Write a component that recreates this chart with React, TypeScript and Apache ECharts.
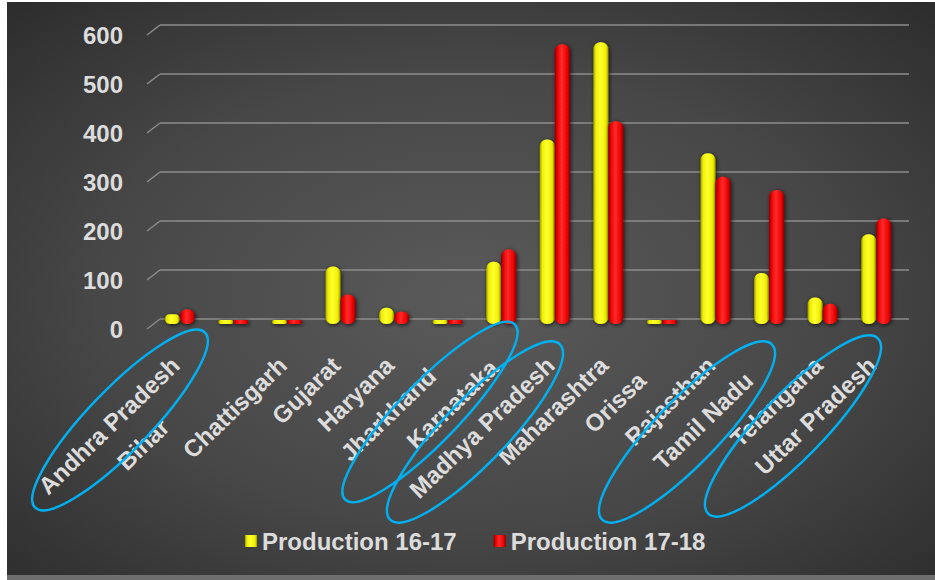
import { useEffect, useRef } from 'react';
import * as echarts from 'echarts';

// Pulse production by state, two seasons
const categories = [
  'Andhra Pradesh',
  'Bihar',
  'Chattisgarh',
  'Gujarat',
  'Haryana',
  'Jharkhand',
  'Karnataka',
  'Madhya Pradesh',
  'Maharashtra',
  'Orissa',
  'Rajasthan',
  'Tamil Nadu',
  'Telangana',
  'Uttar Pradesh',
];
const production1617 = [20, 2, 4, 117, 33, 2, 127, 376, 574, 2, 348, 104, 54, 183];
const production1718 = [30, 2, 3, 60, 25, 2, 152, 570, 413, 2, 300, 273, 41, 215];
const valueTicks = [0, 100, 200, 300, 400, 500, 600];
const seriesNames = ['Production 16-17', 'Production 17-18'];

const FONT = '"Liberation Sans", Arial, Helvetica, sans-serif';
const TEXT = '#dcdcdc';
const WALL_LINE = '#8c8c8c';

// Every category label is pulled back a little along its slant; a few slide further.
const LABEL_BASE_SLIDE = 6;
const labelSlide: Record<string, number> = {
  Bihar: 89,
  Jharkhand: 16,
  Karnataka: 4,
  Orissa: 22,
  'Tamil Nadu': 22,
};

// Highlight rings drawn over the state labels: centre x, centre y, radii.
const rings = [
  [120, 420, 122, 31],
  [430, 412, 122, 30],
  [475, 432, 122, 32],
  [687, 432, 122, 32],
  [793, 426, 122, 32],
];
const RING_TILT = (46 * Math.PI) / 180;

// Horizontal shading that makes a bar read as a cylinder.
function cylinder(edge: string, mid: string, core: string) {
  return new echarts.graphic.LinearGradient(0, 0, 1, 0, [
    { offset: 0, color: edge },
    { offset: 0.16, color: mid },
    { offset: 0.45, color: core },
    { offset: 0.84, color: mid },
    { offset: 1, color: edge },
  ]);
}

const labelFont = {
  fontSize: 24,
  fontWeight: 'bold' as const,
  color: TEXT,
  fontFamily: FONT,
};

export default function App() {
  const ref = useRef<HTMLDivElement>(null);

  useEffect(() => {
    if (!ref.current) return;
    const chart = echarts.init(ref.current, undefined, { renderer: 'svg' });

    const barStyle = (color: any) => ({
      color,
      borderRadius: 7,
      shadowBlur: 4,
      shadowColor: 'rgba(0,0,0,0.75)',
      shadowOffsetX: 1,
      shadowOffsetY: 1,
    });

    const option: any = {
      animation: false,
      backgroundColor: '#ffffff',
      graphic: [
        {
          type: 'rect',
          z: -100,
          silent: true,
          shape: { x: 7, y: 2, width: 928, height: 573 },
          style: {
            fill: new echarts.graphic.RadialGradient(0.5, 0.52, 0.8, [
              { offset: 0, color: '#5a5a5a' },
              { offset: 0.5, color: '#474747' },
              { offset: 1, color: '#262626' },
            ]),
          },
        },
        {
          type: 'rect',
          z: -100,
          silent: true,
          shape: { x: 7, y: 575, width: 928, height: 5 },
          style: { fill: '#6e6e6e' },
        },
        ...rings.map(([cx, cy, rx, ry]) => ({
          type: 'ellipse',
          z: 100,
          silent: true,
          x: cx,
          y: cy,
          rotation: RING_TILT,
          shape: { cx: 0, cy: 0, rx, ry },
          style: { fill: 'none', stroke: '#00b0f0', lineWidth: 2.5 },
        })),
      ],
      grid: [
        // bars stand on the floor
        { left: 153, right: 32, top: 29.4, bottom: 256 },
        // back wall with its gridlines
        { left: 160, right: 26, top: 25, bottom: 261 },
      ],
      legend: {
        data: seriesNames,
        left: 245,
        top: 529,
        padding: 0,
        itemWidth: 12,
        itemHeight: 12,
        itemGap: 37,
        icon: 'rect',
        textStyle: { ...labelFont },
      },
      xAxis: [
        {
          type: 'category',
          gridIndex: 0,
          data: categories.map((c) => ({
            value: c,
            textStyle: { padding: [0, LABEL_BASE_SLIDE + (labelSlide[c] || 0), 0, 0] },
          })),
          axisLine: { show: false },
          axisTick: { show: false },
          axisLabel: { ...labelFont, interval: 0, rotate: 44, margin: 33 },
        },
        { type: 'value', gridIndex: 1, min: 0, max: 1, show: false },
      ],
      yAxis: [
        { type: 'value', gridIndex: 0, min: 0, max: 600, show: false },
        {
          type: 'value',
          gridIndex: 1,
          min: 0,
          max: 600,
          interval: 100,
          axisLine: { show: false },
          axisTick: { show: false },
          splitLine: { lineStyle: { color: WALL_LINE, width: 1.5 } },
          // labels sit at the front edge of the floor, below each wall line
          axisLabel: { ...labelFont, margin: 37, verticalAlign: 'top', lineHeight: 21 },
        },
      ],
      series: [
        {
          name: seriesNames[0],
          type: 'bar',
          xAxisIndex: 0,
          yAxisIndex: 0,
          data: production1617,
          barWidth: 15,
          barGap: '0%',
          barMinHeight: 4,
          itemStyle: barStyle(cylinder('#9c9c00', '#eeee00', '#ffff30')),
        },
        {
          name: seriesNames[1],
          type: 'bar',
          xAxisIndex: 0,
          yAxisIndex: 0,
          data: production1718,
          barWidth: 15,
          barGap: '0%',
          barMinHeight: 4,
          itemStyle: barStyle(cylinder('#8a0000', '#e80000', '#ff2a2a')),
        },
        {
          // slanted floor edges joining each wall line to the front
          type: 'custom',
          xAxisIndex: 1,
          yAxisIndex: 1,
          silent: true,
          data: valueTicks.map((v) => [0, v]),
          renderItem: (_params: any, api: any) => {
            const p = api.coord([api.value(0), api.value(1)]);
            return {
              type: 'line',
              shape: { x1: p[0] - 13, y1: p[1] + 10, x2: p[0], y2: p[1] },
              style: { stroke: WALL_LINE, lineWidth: 1.5 },
            };
          },
        },
      ],
    };

    chart.setOption(option);
    return () => chart.dispose();
  }, []);

  return (
    <div
      ref={ref}
      style={{ position: 'fixed', left: 0, top: 0, width: 935, height: 580 }}
    />
  );
}
